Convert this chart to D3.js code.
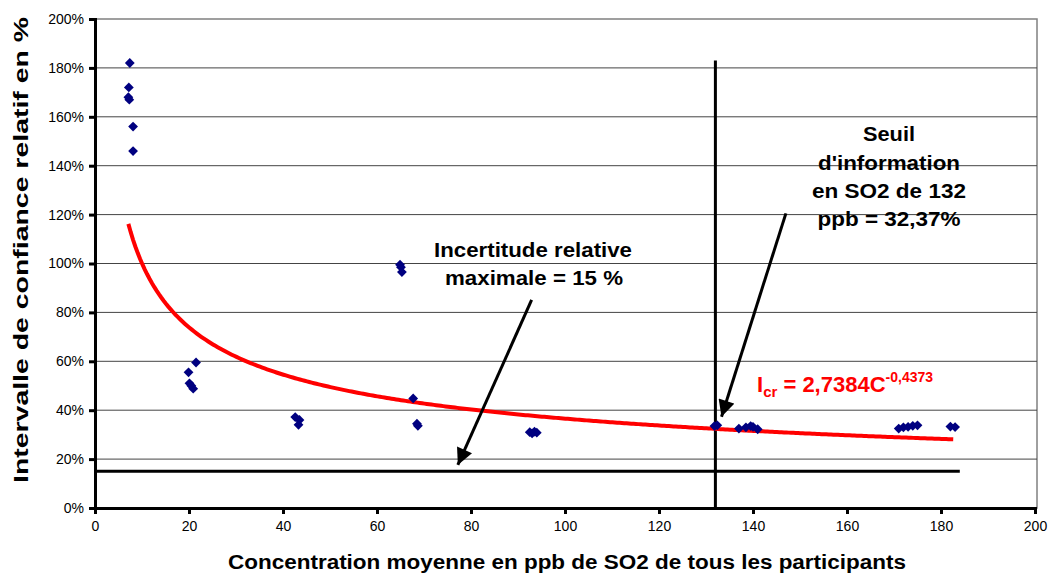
<!DOCTYPE html>
<html>
<head>
<meta charset="utf-8">
<script src="https://cdn.jsdelivr.net/npm/d3@7"></script>
<style>
  body { margin: 0; background: #fff; }
  text { font-family: Arial, "Liberation Sans", sans-serif; }
</style>
</head>
<body>
<div id="chart"></div>
<script>
// concentration (ppb) and relative confidence interval (%)
const concX = [7.4, 7.2, 7.1, 7.3, 8.1, 8.1,
  21.5, 19.9, 20.1, 20.5, 20.9,
  42.6, 43.5, 43.3,
  64.9, 65.1, 65.3, 67.7, 68.5, 68.7,
  92.5, 93.0, 93.5, 94.0,
  131.8, 132.4, 137.0, 138.5, 139.5, 140.0, 141.0,
  171.0, 172.0, 173.0, 174.0, 175.0, 182.0, 183.0];
const ciY = [182, 172, 168, 167, 156, 146,
  59.5, 55.5, 51, 50, 48.8,
  37.2, 36, 34,
  99.5, 98.5, 96.5, 44.8, 34.5, 33.6,
  31, 30.5, 31.2, 30.8,
  33.5, 33.8, 32.5, 33, 33.5, 33.2, 32.2,
  32.5, 33, 33.2, 33.6, 33.8, 33.3, 33.1];
const xTicks = [0, 20, 40, 60, 80, 100, 120, 140, 160, 180, 200];
const yTicks = [0, 20, 40, 60, 80, 100, 120, 140, 160, 180, 200];
const fitA = 2.7384, fitB = -0.4373;
const fitRange = [7.1, 183];
const limitLine = 15;      // % max relative uncertainty
const seuil = 132;         // ppb information threshold
const seuilTop = 183;      // % top of threshold line

const W = 1052, H = 575;
const margin = { top: 19, right: 17, bottom: 67, left: 95 };
const width = W - margin.left - margin.right;
const height = H - margin.top - margin.bottom;

const svg = d3.select('#chart').append('svg')
  .attr('width', W).attr('height', H);

svg.append('defs').append('marker')
  .attr('id', 'arrow')
  .attr('viewBox', '0 0 10 10')
  .attr('refX', 10).attr('refY', 5)
  .attr('markerWidth', 6).attr('markerHeight', 5.5)
  .attr('markerUnits', 'strokeWidth')
  .attr('orient', 'auto')
  .append('path').attr('d', 'M0,0 L10,5 L0,10 z').attr('fill', '#000');

const g = svg.append('g').attr('transform', `translate(${margin.left},${margin.top})`);

const x = d3.scaleLinear().domain([0, 200]).range([0, width]);
const y = d3.scaleLinear().domain([0, 200]).range([height, 0]);

// plot border
g.append('rect')
  .attr('x', 0).attr('y', 0).attr('width', width + 2).attr('height', height)
  .attr('fill', '#fff').attr('stroke', '#808080').attr('stroke-width', 1.5);

// gridlines
g.selectAll('.grid').data(yTicks.slice(1, -1)).join('line')
  .attr('x1', 0).attr('x2', width + 2)
  .attr('y1', d => y(d)).attr('y2', d => y(d))
  .attr('stroke', '#444').attr('stroke-width', 1);

// threshold lines
g.append('line')
  .attr('x1', x(0)).attr('x2', x(184))
  .attr('y1', y(limitLine)).attr('y2', y(limitLine))
  .attr('stroke', '#000').attr('stroke-width', 3);
g.append('line')
  .attr('x1', x(seuil)).attr('x2', x(seuil))
  .attr('y1', y(0)).attr('y2', y(seuilTop))
  .attr('stroke', '#000').attr('stroke-width', 3);

// fit curve
const fitPts = d3.range(fitRange[0], fitRange[1] + 0.01, 0.5)
  .map(c => [c, 100 * fitA * Math.pow(c, fitB)]);
g.append('path')
  .datum(fitPts)
  .attr('fill', 'none')
  .attr('stroke', '#ff0000')
  .attr('stroke-width', 4)
  .attr('d', d3.line().x(d => x(d[0])).y(d => y(d[1])));

// points (square turned 45 degrees)
const diamond = d3.symbol().type(d3.symbolSquare).size(48);
g.selectAll('.pt').data(concX.map((c, i) => [c, ciY[i]])).join('path')
  .attr('d', diamond)
  .attr('transform', d => `translate(${x(d[0])},${y(d[1])}) rotate(45)`)
  .attr('fill', '#000080');

// axes
const xAxis = g.append('g')
  .attr('transform', `translate(0,${height})`)
  .call(d3.axisBottom(x).tickValues(xTicks).tickSize(6).tickPadding(7));
const yAxis = g.append('g')
  .call(d3.axisLeft(y).tickValues(yTicks).tickSize(6).tickPadding(5)
    .tickFormat(d => d + '%'));
[xAxis, yAxis].forEach(a => {
  a.select('.domain').attr('stroke', '#000').attr('stroke-width', 3);
  a.selectAll('.tick line').attr('stroke', '#000').attr('stroke-width', 3);
  a.selectAll('.tick text').attr('font-size', 14).attr('fill', '#000')
    .attr('font-family', 'Arial, "Liberation Sans", sans-serif');
});

function boldText(parent, tx, ty, str, len, size) {
  return parent.append('text')
    .attr('x', tx).attr('y', ty)
    .attr('text-anchor', 'middle')
    .attr('font-size', size).attr('font-weight', 'bold')
    .attr('textLength', len).attr('lengthAdjust', 'spacingAndGlyphs')
    .text(str);
}

// axis titles
boldText(svg, 567, 569, 'Concentration moyenne en ppb de SO2 de tous les participants', 678, 20);
boldText(svg.append('g').attr('transform', 'translate(28,250) rotate(-90)'),
  0, 0, 'Intervalle de confiance relatif en %', 466, 20);

// annotations
boldText(svg, 533, 257, 'Incertitude relative', 198, 20);
boldText(svg, 534, 285, 'maximale = 15 %', 178, 20);
boldText(svg, 889, 141, 'Seuil', 52, 20);
boldText(svg, 889, 170, "d'information", 142, 20);
boldText(svg, 889, 198, 'en SO2 de 132', 154, 20);
boldText(svg, 889, 226, 'ppb = 32,37%', 143, 20);

// arrows
g.append('line')
  .attr('x1', x(92.9)).attr('y1', y(85.1))
  .attr('x2', x(77.2)).attr('y2', y(17.6))
  .attr('stroke', '#000').attr('stroke-width', 3)
  .attr('marker-end', 'url(#arrow)');
g.append('line')
  .attr('x1', x(147)).attr('y1', y(120.5))
  .attr('x2', x(133.3)).attr('y2', y(37.3))
  .attr('stroke', '#000').attr('stroke-width', 3)
  .attr('marker-end', 'url(#arrow)');

// equation
const eq = svg.append('text')
  .attr('x', 757).attr('y', 392)
  .attr('fill', '#ff0000').attr('font-weight', 'bold').attr('font-size', 22);
eq.append('tspan').text('I');
eq.append('tspan').attr('font-size', 15).attr('dy', 5).text('cr');
eq.append('tspan').attr('dy', -5).text(' = 2,7384C');
eq.append('tspan').attr('font-size', 14).attr('dy', -10).text('-0,4373');
</script>
</body>
</html>
